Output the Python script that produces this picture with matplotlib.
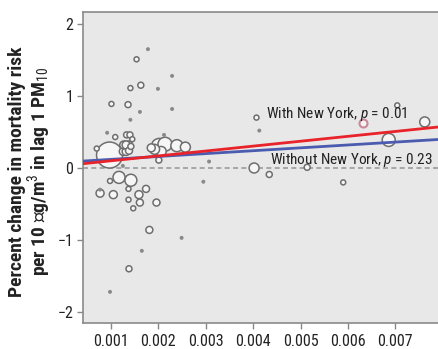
import matplotlib
matplotlib.use("Agg")
import matplotlib.pyplot as plt
from matplotlib import font_manager as fm
import numpy as np

# pick a narrow font if one is installed
_fonts = fm.fontManager.ttflist
_names = {f.name for f in _fonts}
def _has_condensed(name):
    for f in _fonts:
        if f.name == name:
            st = f.stretch
            if isinstance(st, str):
                if 'condensed' in st or 'narrow' in st:
                    return True
            elif isinstance(st, (int, float)) and st < 500:
                return True
    return False

FAMILY = 'DejaVu Sans'
STRETCH = 'normal'
for cand in ['Liberation Sans Narrow', 'Roboto Condensed', 'Open Sans Condensed', 'Noto Sans Condensed',
             'DejaVu Sans Condensed']:
    if cand in _names:
        FAMILY = cand
        break
else:
    for cand in ['Roboto', 'Noto Sans', 'Open Sans', 'DejaVu Sans']:
        if cand in _names and _has_condensed(cand):
            FAMILY = cand
            STRETCH = 'condensed'
            break

plt.rcParams['font.family'] = [FAMILY, 'DejaVu Sans']
plt.rcParams['font.stretch'] = STRETCH
plt.rcParams['mathtext.fontset'] = 'custom'
plt.rcParams['mathtext.rm'] = FAMILY
plt.rcParams['mathtext.it'] = FAMILY + ':italic'
plt.rcParams['mathtext.bf'] = FAMILY + ':bold'

NARROW = FAMILY != 'DejaVu Sans' or STRETCH == 'condensed'
scale = 1.0 if NARROW else 0.8

# small filled dots (cities with tiny weight)
dot_x = [0.00178, 0.00229, 0.00199, 0.00161, 0.00229, 0.00141, 0.00092, 0.00212,
         0.00307, 0.00295, 0.00125, 0.00249, 0.00165, 0.00098, 0.00077, 0.00413]
dot_y = [1.65, 1.28, 1.10, 0.78, 0.82, 0.67, 0.49, 0.46,
         0.09, -0.19, 0.03, -0.97, -1.15, -1.72, -0.30, 0.52]

# open circles: x, y, radius (weight)
circ_x = [0.00154, 0.00163, 0.00141, 0.00101, 0.00136, 0.00109, 0.00133, 0.00140, 0.00145, 0.00070,
          0.00097,
          0.00127, 0.00132, 0.00137, 0.00126, 0.00132, 0.00138, 0.00142,
          0.00202, 0.00214, 0.00192, 0.00206, 0.00239, 0.00257, 0.00201, 0.00185,
          0.00407, 0.00402, 0.00434, 0.00514, 0.00590, 0.00704, 0.00762, 0.00686,
          0.00117, 0.00142, 0.00098, 0.00174, 0.00137, 0.00077, 0.00105, 0.00159,
          0.00161, 0.00137, 0.00196, 0.00147, 0.00181, 0.00138]
circ_y = [1.51, 1.15, 1.11, 0.89, 0.88, 0.43, 0.46, 0.46, 0.40, 0.27,
          0.18,
          0.32, 0.32, 0.32, 0.23, 0.23, 0.24, 0.30,
          0.30, 0.33, 0.26, 0.23, 0.31, 0.29, 0.11, 0.28,
          0.70, 0.00, -0.09, 0.01, -0.20, 0.87, 0.64, 0.39,
          -0.13, -0.17, -0.18, -0.29, -0.29, -0.35, -0.37, -0.37,
          -0.48, -0.44, -0.48, -0.56, -0.86, -1.40]
circ_r = [2.5, 3, 2.5, 2.5, 3, 2.5, 3, 3, 2.5, 2.5,
          13,
          4, 4, 4, 4, 4, 3.5, 3,
          8, 7, 5, 5, 6, 5, 3, 4,
          2.5, 5, 3, 3, 2.5, 2.5, 5, 6.5,
          6, 6, 2.5, 3.5, 2.5, 4, 4, 4,
          3.5, 2.5, 3.5, 2.5, 3.5, 3]

# New York
ny_x = [0.00631]
ny_y = [0.63]
ny_r = [4]

# regression fits (intercept, slope)
fit_with_ny = (0.032, 68.0)
fit_without_ny = (0.080, 40.0)

xticks = [0.001, 0.002, 0.003, 0.004, 0.005, 0.006, 0.007]
xtick_labels = ['0.001', '0.002', '0.003', '0.004', '0.005', '0.006', '0.007']
yticks = [-2, -1, 0, 1, 2]
ytick_labels = ['\u22122', '\u22121', '0', '1', '2']

fig = plt.figure(figsize=(4.38, 3.49), dpi=100)
ax = fig.add_axes([83/438, 1-323/349, 1-83/438, (323-12)/349])
ax.set_facecolor('#e8e8e8')
xlim = (0.00041, 0.0079)
ax.set_xlim(*xlim)
ax.set_ylim(-2.153, 2.167)

def s_from_r(r):
    return (2*np.asarray(r) / (100/72))**2

ax.axhline(0, color='#9a9a9a', lw=1.2, ls=(0, (3, 2)), zorder=1)

order = np.argsort(circ_r)[::-1]
ax.scatter(np.array(circ_x)[order], np.array(circ_y)[order], s=s_from_r(np.array(circ_r)[order]),
           facecolor='#f6f6f6', edgecolor='#6e6e6e', linewidths=1.1, zorder=2)
ax.scatter(ny_x, ny_y, s=s_from_r(ny_r), facecolor='#f4f4f4', edgecolor='#c88a98', linewidths=1.5, zorder=2)
ax.scatter(dot_x, dot_y, s=s_from_r([1.6]*len(dot_x)), facecolor='#888888', edgecolor='#888888',
           linewidths=0.5, zorder=2)

xs = np.array(xlim)
ax.plot(xs, fit_without_ny[0] + fit_without_ny[1]*xs, color='#4a5bb0', lw=2.0, zorder=3, solid_capstyle='butt')
ax.plot(xs, fit_with_ny[0] + fit_with_ny[1]*xs, color='#e8232a', lw=2.0, zorder=3, solid_capstyle='butt')

ax.text(0.00427, 0.75, 'With New York, $\\it{p}$ = 0.01', fontsize=11*scale, color='#222222',
        va='center', ha='left', zorder=4)
ax.text(0.00436, 0.11, 'Without New York, $\\it{p}$ = 0.23', fontsize=11*scale, color='#222222',
        va='center', ha='left', zorder=4)

ax.set_xticks(xticks)
ax.set_xticklabels(xtick_labels, fontsize=11.5*scale)
ax.set_yticks(yticks)
ax.set_yticklabels(ytick_labels, fontsize=11.5*scale)
ax.tick_params(direction='out', length=4, width=1, color='#888888', labelcolor='#222222', pad=3)
ax.tick_params(axis='x', pad=4)
for side in ['left', 'bottom', 'top', 'right']:
    ax.spines[side].set_color('#8a8a8a')
    ax.spines[side].set_linewidth(1.2)
ax.spines['right'].set_visible(False)

ax.set_ylabel('Percent change in mortality risk\nper 10 \u25a1g/m$^3$ in lag 1 PM$_{10}$',
              fontsize=14*scale, fontweight='bold', color='#222222', linespacing=0.95)
ax.yaxis.set_label_coords(-0.085, 0.486)

fig.savefig('out.png', dpi=100)
